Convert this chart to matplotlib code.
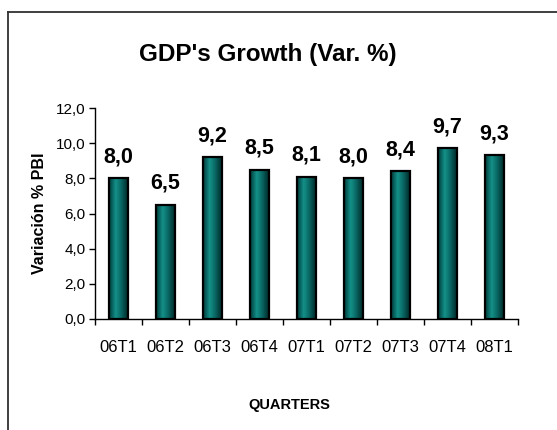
import matplotlib
matplotlib.use("Agg")
import matplotlib.pyplot as plt
import numpy as np
from matplotlib.colors import LinearSegmentedColormap
from matplotlib.patches import Rectangle
from matplotlib.lines import Line2D

categories = ["06T1", "06T2", "06T3", "06T4", "07T1", "07T2", "07T3", "07T4", "08T1"]
values = [8.0, 6.5, 9.2, 8.5, 8.1, 8.0, 8.4, 9.7, 9.3]
yticks = [0, 2, 4, 6, 8, 10, 12]

plt.rcParams['font.family'] = ['Liberation Sans', 'DejaVu Sans']

W, H = 557, 430
fig = plt.figure(figsize=(W / 100, H / 100), dpi=100)
ax = fig.add_axes([95 / W, 1 - 319 / H, (518 - 95) / W, (319 - 108) / H])

cmap = LinearSegmentedColormap.from_list(
    "teal", [(0.0, "#003a3a"), (0.35, "#139088"), (0.6, "#0b6e6a"), (1.0, "#002a2a")])
grad = np.linspace(0, 1, 64).reshape(1, -1)

x = np.arange(len(categories))
bw = 0.39
bars = ax.bar(x, values, width=bw, color="none", edgecolor="black", linewidth=1.6, zorder=3)
for b in bars:
    x0, y0 = b.get_x(), b.get_y()
    w, h = b.get_width(), b.get_height()
    im = ax.imshow(grad, cmap=cmap, extent=[x0, x0 + w, y0, y0 + h], aspect="auto", zorder=2)
    im.set_clip_path(Rectangle((x0, y0), w, h, transform=ax.transData))

for xi, v in zip(x, values):
    ax.annotate(f"{v:.1f}".replace(".", ","), (xi, v), xytext=(0, 11.5), textcoords="offset points",
                ha="center", va="baseline", fontsize=15.5, fontweight="bold")

ax.set_xlim(-0.5, len(categories) - 0.5)
ax.set_ylim(0, 12)
ax.set_yticks(yticks)
ax.set_yticklabels([f"{t:.1f}".replace(".", ",") for t in yticks], fontsize=11)
ax.set_xticks(x)
ax.set_xticklabels(categories, fontsize=12)
ax.set_xticks(np.arange(-0.5, len(categories)), minor=True)
ax.tick_params(axis="x", which="major", length=0, pad=15)
ax.tick_params(axis="x", which="minor", length=4, width=1, direction="out")
ax.tick_params(axis="y", length=4, width=1, pad=3)
for s in ["top", "right"]:
    ax.spines[s].set_visible(False)
for s in ["left", "bottom"]:
    ax.spines[s].set_linewidth(1)
ax.set_facecolor("none")

fig.text(268 / W, 1 - 55 / H, "GDP's Growth (Var. %)", ha="center", va="center",
         fontsize=17.5, fontweight="bold")
fig.text(289 / W, 1 - 405 / H, "QUARTERS", ha="center", va="center",
         fontsize=10.5, fontweight="bold")
fig.text(40 / W, 1 - 213 / H, "Variación % PBI", ha="center", va="center",
         rotation=90, fontsize=11.5, fontweight="bold")

fig.add_artist(Line2D([8 / W, 8 / W], [0, 1 - 12 / H], transform=fig.transFigure,
                      color="#303030", linewidth=1.3))
fig.add_artist(Line2D([8 / W, 1], [1 - 12 / H, 1 - 12 / H], transform=fig.transFigure,
                      color="#303030", linewidth=1.3))

fig.savefig("out.png", dpi=100)
